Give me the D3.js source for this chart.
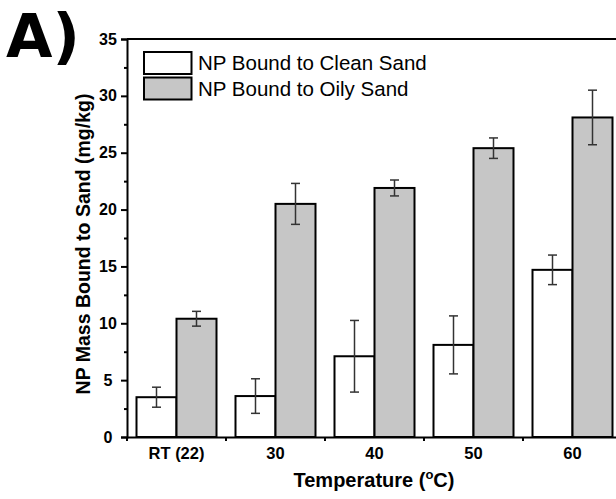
<!DOCTYPE html>
<html>
<head>
<meta charset="utf-8">
<script src="https://cdn.jsdelivr.net/npm/d3@7"></script>
<style>
  html, body { margin: 0; padding: 0; background: #fff; }
  svg { display: block; }
  text { font-family: "Liberation Sans", Arial, sans-serif; }
</style>
</head>
<body>
<svg id="chart" width="616" height="499"></svg>
<script>
const categories = ["RT (22)", "30", "40", "50", "60"];
const seriesNames = ["NP Bound to Clean Sand", "NP Bound to Oily Sand"];
const cleanValues = [3.5, 3.6, 7.1, 8.1, 14.7];
const cleanErrors = [0.88, 1.52, 3.15, 2.55, 1.3];
const oilyValues = [10.4, 20.5, 21.9, 25.4, 28.1];
const oilyErrors = [0.65, 1.8, 0.7, 0.9, 2.4];
const yTicks = [0, 5, 10, 15, 20, 25, 30, 35];
const yMinorTicks = [2.5, 7.5, 12.5, 17.5, 22.5, 27.5, 32.5];

const svg = d3.select("#chart");
const pLeft = 127, pRight = 622, pTop = 39, pBottom = 437;

const x = d3.scaleBand().domain(categories).range([pLeft, pRight]).paddingInner(0).paddingOuter(0);
const y = d3.scaleLinear().domain([0, 35]).range([pBottom, pTop]);
const sub = d3.scaleBand().domain(["clean", "oily"]).range([0, 80]);
const offset = (x.bandwidth() - 80) / 2;
const fills = { clean: "#ffffff", oily: "#c6c6c6" };

const rows = categories.map((c, i) => [
  { cat: c, key: "clean", v: cleanValues[i], e: cleanErrors[i] },
  { cat: c, key: "oily", v: oilyValues[i], e: oilyErrors[i] }
]).flat();

// bars
svg.append("g").selectAll("rect").data(rows).join("rect")
  .attr("x", d => x(d.cat) + offset + sub(d.key))
  .attr("y", d => y(d.v))
  .attr("width", sub.bandwidth())
  .attr("height", d => y(0) - y(d.v))
  .attr("fill", d => fills[d.key])
  .attr("stroke", "#000")
  .attr("stroke-width", 2);

// error bars
const eg = svg.append("g").attr("stroke", "#333").attr("stroke-width", 1.5);
rows.forEach(d => {
  const cx = x(d.cat) + offset + sub(d.key) + sub.bandwidth() / 2;
  eg.append("line").attr("x1", cx).attr("x2", cx).attr("y1", y(d.v + d.e)).attr("y2", y(d.v - d.e));
  eg.append("line").attr("x1", cx - 4.5).attr("x2", cx + 4.5).attr("y1", y(d.v + d.e)).attr("y2", y(d.v + d.e));
  eg.append("line").attr("x1", cx - 4.5).attr("x2", cx + 4.5).attr("y1", y(d.v - d.e)).attr("y2", y(d.v - d.e));
});

// frame
svg.append("line").attr("x1", pLeft).attr("x2", pRight).attr("y1", pTop).attr("y2", pTop).attr("stroke", "#000").attr("stroke-width", 2);
svg.append("line").attr("x1", pRight).attr("x2", pRight).attr("y1", pTop).attr("y2", pBottom).attr("stroke", "#000").attr("stroke-width", 2);

// y axis
const yAxis = svg.append("g").attr("transform", `translate(${pLeft},0)`)
  .call(d3.axisLeft(y).tickValues(yTicks).tickSize(6).tickFormat(d3.format("d")));
yAxis.select(".domain").attr("stroke-width", 2);
yAxis.selectAll(".tick line").attr("stroke-width", 2);
yAxis.selectAll(".tick text")
  .attr("x", -19).attr("text-anchor", "middle")
  .attr("font-size", 16).attr("font-weight", "bold").attr("fill", "#000")
  .style("font-family", "'Liberation Sans', Arial, sans-serif");
svg.append("g").attr("transform", `translate(${pLeft},0)`)
  .call(d3.axisLeft(y).tickValues(yMinorTicks).tickSize(3).tickFormat(""))
  .call(g => g.select(".domain").remove())
  .selectAll(".tick line").attr("stroke-width", 2);

// x axis
const xAxis = svg.append("g").attr("transform", `translate(0,${pBottom})`)
  .call(d3.axisBottom(x).tickSize(0).tickPadding(10));
xAxis.select(".domain").attr("stroke-width", 2);
xAxis.selectAll(".tick text")
  .attr("font-size", 16.5).attr("font-weight", "bold").attr("fill", "#000")
  .style("font-family", "'Liberation Sans', Arial, sans-serif");
// minor ticks at group boundaries
svg.append("g").selectAll("line").data(categories.slice(1)).join("line")
  .attr("x1", d => x(d)).attr("x2", d => x(d))
  .attr("y1", pBottom).attr("y2", pBottom + 4)
  .attr("stroke", "#000").attr("stroke-width", 2);
svg.append("line").attr("x1", pLeft).attr("x2", pLeft).attr("y1", pBottom).attr("y2", pBottom + 4)
  .attr("stroke", "#000").attr("stroke-width", 2);

// axis titles
const xt = svg.append("text").attr("x", 374).attr("y", 487)
  .attr("text-anchor", "middle").attr("font-size", 20).attr("font-weight", "bold");
xt.append("tspan").text("Temperature (");
xt.append("tspan").text("o").attr("font-size", 13).attr("dy", -8);
xt.append("tspan").text("C)").attr("dy", 8);

svg.append("text")
  .attr("transform", "translate(90,244) rotate(-90)")
  .attr("text-anchor", "middle").attr("font-size", 19.5).attr("font-weight", "bold")
  .text("NP Mass Bound to Sand (mg/kg)");

// panel label
svg.append("text").attr("x", 6).attr("y", 57)
  .attr("font-size", 60).attr("font-weight", 900)
  .style("font-family", "'DejaVu Sans', Arial, sans-serif")
  .text("A)");

// legend
const lg = svg.append("g");
["clean", "oily"].forEach((k, i) => {
  lg.append("rect").attr("x", 144).attr("y", 52 + i * 25.5).attr("width", 47.5).attr("height", 22)
    .attr("fill", fills[k]).attr("stroke", "#000").attr("stroke-width", 2);
  lg.append("text").attr("x", 198).attr("y", 70 + i * 25.5)
    .attr("font-size", 20.5).attr("fill", "#000").text(seriesNames[i]);
});
</script>
</body>
</html>
